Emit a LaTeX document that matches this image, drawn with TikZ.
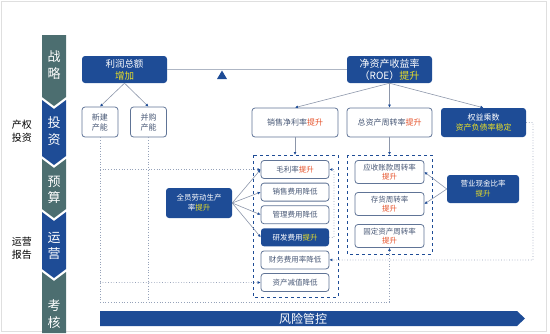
\documentclass[tikz,border=0pt]{standalone}
\usepackage{fontspec}
\setmainfont{Noto Sans CJK SC}
\usetikzlibrary{arrows.meta}

\begin{document}
\begin{tikzpicture}[x=1pt, y=-1pt,
    bbox/.style={rounded corners=3pt, fill=dkblue, text=white, align=center, inner sep=0pt},
    wbox/.style={rounded corners=3pt, draw=boxline, line width=0.8pt, fill=white, text=boxtext, align=center, inner sep=0pt},
    stagetxt/.style={text=white, align=center, font=\fontsize{13}{16.5}\selectfont},
    sidetxt/.style={align=center, font=\fontsize{10}{12.5}\selectfont},
    link/.style={draw=linkcol, line width=0.6pt, -{Latex[length=3pt,width=3pt,color=dkblue]}},
    dotlink/.style={draw=dotcol, line width=0.7pt, dotted},
    grp/.style={draw=dkblue, line width=0.8pt, dashed}]
    \definecolor{dkblue}{RGB}{30,76,150}
    \definecolor{stagegray}{RGB}{76,110,112}
    \definecolor{boxline}{RGB}{96,116,150}
    \definecolor{boxtext}{RGB}{72,88,118}
    \definecolor{linkcol}{RGB}{140,150,170}
    \definecolor{dotcol}{RGB}{150,162,185}
    \definecolor{upred}{RGB}{230,82,42}
    \definecolor{upyel}{RGB}{232,222,40}
    \newcommand{\redtxt}[1]{{\color{upred}#1}}
    \newcommand{\yeltxt}[1]{{\color{upyel}#1}}

    \useasboundingbox (0,0) rectangle (550,333);
    \draw[gray!25] (1,1) rectangle (546,331);

    % Stage chevrons
    \fill[stagegray] (42,35) -- (66,35) -- (66,97) -- (54,106) -- (42,97) -- cycle;
    \foreach \yt/\yb/\col in {100/156/dkblue, 159/209/stagegray, 212/269/dkblue} {
        \fill[\col] (42,\yt) -- (54,\yt+9) -- (66,\yt) -- (66,\yb) -- (54,\yb+9) -- (42,\yb) -- cycle;
    }
    \fill[stagegray] (42,272) -- (54,281) -- (66,272) -- (66,333) -- (42,333) -- cycle;
    \node[stagetxt] (s1) at (54,65) {战\\略};
    \node[stagetxt] (s2) at (54,131) {投\\资};
    \node[stagetxt] (s3) at (54,190) {预\\算};
    \node[stagetxt] (s4) at (54,246) {运\\营};
    \node[stagetxt] (s5) at (54,314) {考\\核};
    \node[sidetxt] (invest) at (22,131) {产权\\投资};
    \node[sidetxt] (report) at (22,248) {运营\\报告};

    % Top row
    \node[bbox, minimum width=85pt, minimum height=27pt, font=\fontsize{9.5}{12}\selectfont] (profit) at (124.5,69.5) {利润总额\\\yeltxt{增加}};
    \node[bbox, minimum width=85pt, minimum height=27pt, font=\fontsize{10}{12.5}\selectfont] (roe) at (389.5,69.5) {净资产收益率\\（ROE）\yeltxt{提升}};
    \draw[linkcol!70, line width=1.2pt] (profit.east) -- (roe.west);
    \fill[dkblue] (222,70.5) -- (227,79) -- (217,79) -- cycle;

    % Second row
    \node[wbox, minimum width=36pt, minimum height=30pt, font=\fontsize{8}{10}\selectfont] (newcap) at (100,122) {新建\\产能};
    \node[wbox, minimum width=36pt, minimum height=30pt, font=\fontsize{8}{10}\selectfont] (merge) at (148.5,122) {并购\\产能};
    \node[wbox, minimum width=86pt, minimum height=29pt, font=\fontsize{8}{10}\selectfont] (netm) at (295,122.5) {销售净利率\redtxt{提升}};
    \node[wbox, minimum width=85pt, minimum height=29pt, font=\fontsize{8}{10}\selectfont] (turn) at (389.5,122.5) {总资产周转率\redtxt{提升}};
    \node[bbox, minimum width=85pt, minimum height=29pt, font=\fontsize{8}{10.5}\selectfont] (equity) at (483.5,122.5) {权益乘数\\\yeltxt{资产负债率稳定}};
    \draw[link] (profit.south) -- (newcap.north);
    \draw[link] (profit.south) -- (merge.north);
    \draw[link] (roe.south) -- (netm.north);
    \draw[link] (roe.south) -- (turn.north);
    \draw[link] (roe.south) -- (equity.north);

    % Dashed groups
    \draw[grp] (253,155) rectangle (338,297);
    \draw[grp] (347,155) rectangle (432,254);
    \coordinate (g1top) at (295,155);
    \coordinate (g2top) at (389.5,155);
    \draw[link] (netm.south) -- (g1top);
    \draw[link] (turn.south) -- (g2top);

    \foreach \i/\sty/\txt in {1/wbox/{毛利率\redtxt{提升}}, 2/wbox/{销售费用降低}, 3/wbox/{管理费用降低},
                              4/bbox/{研发费用\yeltxt{提升}}, 5/wbox/{财务费用率降低}, 6/wbox/{资产减值降低}} {
        \pgfmathsetmacro{\yy}{169.5+22.6*(\i-1)}
        \node[\sty, minimum width=68pt, minimum height=18pt, font=\fontsize{7.5}{9}\selectfont] (m\i) at (295,\yy) {\txt};
    }
    \foreach \i/\txt in {1/{应收账款周转率}, 2/{存货周转率}, 3/{固定资产周转率}} {
        \pgfmathsetmacro{\yy}{172+32*(\i-1)}
        \node[wbox, minimum width=69pt, minimum height=23pt, font=\fontsize{7.5}{9.5}\selectfont] (t\i) at (389.5,\yy) {\txt\\\redtxt{提升}};
    }

    % Side drivers
    \node[bbox, minimum width=66pt, minimum height=30pt, font=\fontsize{7.5}{10}\selectfont] (labor) at (199,203) {全员劳动生产\\率\yeltxt{提升}};
    \node[bbox, minimum width=72pt, minimum height=28pt, font=\fontsize{7.5}{10}\selectfont] (cash) at (483,189) {营业现金比率\\\yeltxt{提升}};
    \foreach \i in {1,2,3,4} {
        \draw[link] (labor.east) -- (m\i.west);
    }
    \draw[link] (cash.west) -- (t1.east);
    \draw[link] (cash.west) -- (t2.east);

    % Dotted feedback lines
    \draw[dotlink] (newcap.south) -- (100,302) -- (389.5,302);
    \draw[dotlink] (merge.south) -- (148.5,302);
    \draw[dotlink, -{Latex[length=3pt,width=3pt,color=dkblue]}] (389.5,302) -- (t3.south);
    \draw[dotlink, -{Latex[length=3pt,width=3pt,color=dkblue]}] (100,169.5) -- (m1.west);
    \draw[dotlink, -{Latex[length=3pt,width=3pt,color=dkblue]}] (100,282.5) -- (m6.west);
    \draw[dotlink, -{Latex[length=3pt,width=3pt,color=dkblue]}] (equity.east) -- (533,122.5) -- (533,260) -- (m5.east);
    \draw[dotlink, -{Latex[length=3pt,width=3pt,color=dkblue]}] (m4.east) -- (334,237.5) -- (334,169.5) -- (m1.east);

    % Risk control bar
    \fill[dkblue] (100,311) -- (517,311) -- (525,318.5) -- (517,326) -- (100,326) -- cycle;
    \node[text=white, font=\fontsize{12}{14}\selectfont] (risk) at (303,318.5) {风险管控};
\end{tikzpicture}
\end{document}
